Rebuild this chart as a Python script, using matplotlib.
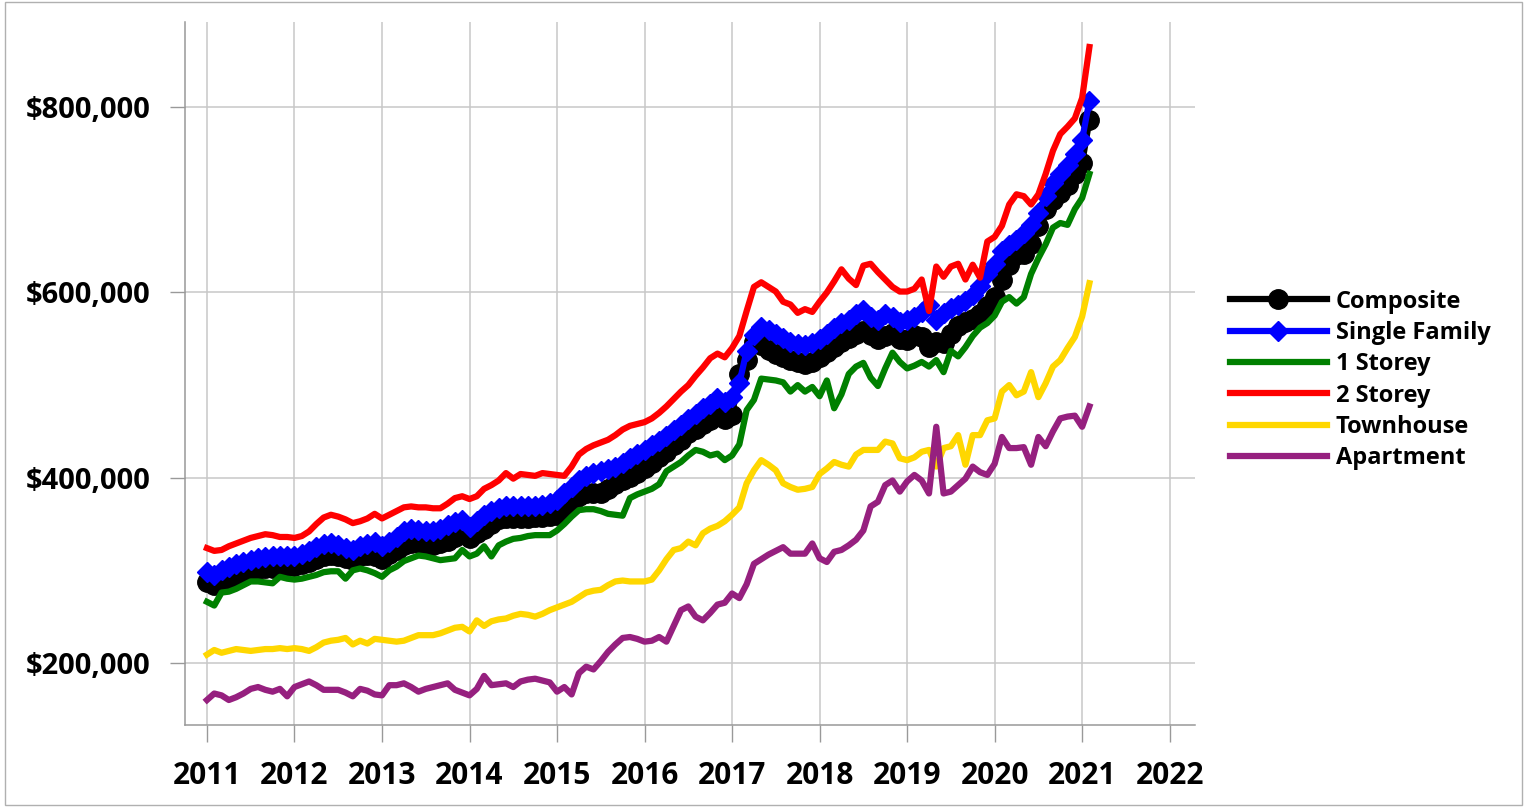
import numpy as np
import pandas as pd
from matplotlib import pyplot as plt
from matplotlib import font_manager
from matplotlib.patches import Rectangle
from matplotlib.ticker import FuncFormatter

# ---------------------- monthly benchmark prices (thousands of $) ----------------------
months = pd.date_range('2011-01-01', periods=122, freq='MS')

composite = [287, 284, 289, 292, 294, 297, 299, 301, 302, 303, 304, 305, 305,
             307, 309, 312, 315, 317, 316, 313, 311, 315, 317, 316, 312,
             318, 322, 327, 329, 329, 328, 327, 329, 332, 336, 340, 335,
             340, 345, 350, 355, 356, 356, 356, 357, 358, 358, 359, 360,
             366, 372, 380, 383, 383, 384, 388, 393, 397, 401, 405, 410,
             416, 422, 428, 435, 441, 448, 453, 458, 462, 467, 463, 468,
             512, 527, 546, 543, 538, 534, 530, 527, 525, 523, 525, 530,
             536, 541, 546, 551, 555, 558, 554, 550, 553, 556, 550, 549,
             554, 552, 541, 546, 545, 555, 564, 568, 571, 577, 585, 595,
             614, 630, 640, 642, 652, 672, 690, 700, 707, 716, 728, 740, 786]

single_family = [298, 295, 300, 304, 307, 309, 311, 313, 314, 315, 316, 316, 315,
                 318, 321, 325, 328, 330, 327, 324, 322, 326, 328, 331, 326,
                 331, 336, 342, 345, 344, 343, 342, 345, 349, 352, 354, 347,
                 353, 360, 364, 367, 369, 369, 369, 370, 370, 371, 373, 376,
                 383, 390, 398, 402, 405, 407, 409, 412, 416, 421, 426, 430,
                 435, 440, 445, 451, 457, 463, 469, 475, 480, 486, 482, 487,
                 502, 537, 554, 563, 559, 555, 551, 547, 544, 543, 545, 550,
                 555, 562, 567, 570, 577, 581, 573, 570, 577, 573, 568, 570,
                 574, 579, 586, 570, 578, 583, 586, 591, 597, 607, 620, 631,
                 645, 651, 657, 664, 673, 686, 704, 718, 728, 738, 750, 765, 807]

one_storey = [266, 262, 276, 277, 280, 284, 288, 288, 287, 286, 293, 291, 290,
              291, 293, 295, 298, 299, 299, 291, 300, 302, 300, 297, 293,
              300, 304, 310, 313, 316, 315, 313, 311, 312, 313, 322, 315,
              318, 326, 315, 327, 331, 334, 335, 337, 338, 338, 338, 343,
              350, 358, 365, 366, 366, 364, 361, 360, 359, 378, 382, 385,
              388, 393, 407, 412, 417, 424, 430, 428, 424, 426, 419, 424,
              436, 473, 484, 507, 506, 505, 503, 493, 500, 493, 498, 488,
              505, 475, 490, 512, 520, 524, 508, 499, 518, 535, 525, 518,
              521, 525, 520, 527, 514, 537, 531, 541, 553, 562, 567, 575,
              590, 595, 588, 595, 620, 637, 652, 670, 675, 673, 690, 702, 728]

two_storey = [324, 321, 322, 326, 329, 332, 335, 337, 339, 338, 336, 336, 335,
              337, 342, 350, 357, 360, 358, 355, 351, 353, 356, 361, 356,
              360, 364, 368, 369, 368, 368, 367, 367, 372, 378, 380, 377,
              380, 388, 392, 397, 405, 399, 404, 403, 402, 405, 404, 403,
              402, 412, 425, 431, 435, 438, 441, 446, 452, 456, 458, 460,
              464, 470, 477, 485, 493, 500, 510, 519, 529, 534, 530, 540,
              553, 580, 606, 611, 606, 601, 590, 587, 578, 582, 579, 590,
              600, 612, 625, 615, 608, 629, 631, 622, 614, 606, 601, 601,
              604, 614, 580, 628, 617, 628, 631, 614, 630, 616, 655, 660,
              672, 695, 706, 704, 695, 706, 728, 753, 771, 779, 788, 810, 865]

townhouse = [209, 214, 211, 213, 215, 214, 213, 214, 215, 215, 216, 215, 216,
             215, 213, 217, 222, 224, 225, 227, 220, 224, 221, 226, 225,
             224, 223, 224, 227, 230, 230, 230, 232, 235, 238, 239, 234,
             246, 240, 245, 247, 248, 251, 253, 252, 250, 253, 257, 260,
             263, 266, 271, 276, 278, 279, 284, 288, 289, 288, 288, 288,
             290, 300, 312, 322, 324, 331, 327, 340, 345, 348, 353, 360,
             368, 394, 408, 419, 414, 408, 394, 390, 387, 388, 390, 404,
             410, 417, 414, 412, 425, 430, 430, 430, 439, 437, 421, 419,
             422, 428, 430, 412, 432, 434, 446, 414, 446, 446, 462, 464,
             493, 500, 489, 493, 514, 487, 502, 520, 527, 540, 552, 574, 610]

apartment = [160, 167, 165, 160, 163, 167, 172, 174, 171, 169, 172, 164, 174,
             177, 180, 176, 171, 171, 171, 168, 164, 172, 170, 166, 165,
             176, 176, 178, 174, 169, 172, 174, 176, 178, 171, 168, 165,
             172, 186, 176, 177, 178, 174, 180, 182, 183, 181, 179, 169,
             174, 166, 189, 196, 193, 202, 212, 220, 227, 228, 226, 223,
             224, 228, 223, 240, 257, 261, 250, 246, 254, 263, 265, 275,
             270, 285, 307, 312, 317, 321, 325, 318, 318, 318, 329, 313,
             309, 320, 322, 327, 333, 343, 369, 374, 392, 397, 385, 396,
             403, 397, 383, 455, 383, 385, 392, 399, 412, 406, 403, 415,
             444, 432, 432, 433, 414, 444, 434, 450, 464, 466, 467, 455, 477]

year_ticks = list(range(2011, 2023))
price_ticks = [200000, 400000, 600000, 800000]

# ---------------------- fonts ----------------------
installed = {f.name for f in font_manager.fontManager.ttflist}
label_font = 'Open Sans' if 'Open Sans' in installed else 'DejaVu Sans'
year_font = 'Liberation Sans Narrow' if 'Liberation Sans Narrow' in installed else label_font
year_size = 25 if year_font == 'Liberation Sans Narrow' else 21.5

# ---------------------- x axis in decimal years ----------------------
x = months.year + (months.month - 1) / 12.0

fig = plt.figure(figsize=(15.27, 8.07), dpi=100)
ax = fig.add_axes([0.1212, 0.1016, 0.6614, 0.8711])

lw = 4.5
ax.plot(x, np.array(composite) * 1000, color='black', lw=lw, marker='o', ms=14,
        label='Composite', zorder=3)
ax.plot(x, np.array(single_family) * 1000, color='#0000ff', lw=lw, marker='D', ms=10,
        label='Single Family', zorder=4)
ax.plot(x, np.array(one_storey) * 1000, color='#008000', lw=lw, label='1 Storey', zorder=5)
ax.plot(x, np.array(two_storey) * 1000, color='#ff0000', lw=lw, label='2 Storey', zorder=5)
ax.plot(x, np.array(townhouse) * 1000, color='#ffd700', lw=lw, label='Townhouse', zorder=5)
ax.plot(x, np.array(apartment) * 1000, color='#96207f', lw=lw, label='Apartment', zorder=6)

ax.set_xlim(2010.75, 2022.29)
ax.set_ylim(133000, 892000)
ax.set_xticks(year_ticks)
ax.set_yticks(price_ticks)
ax.yaxis.set_major_formatter(FuncFormatter(lambda v, p: '${:,.0f}'.format(v)))

ax.grid(True, color='#c8c8c8', lw=1.1)
ax.set_axisbelow(True)
for side in ['top', 'right']:
    ax.spines[side].set_visible(False)
for side in ['left', 'bottom']:
    ax.spines[side].set_color('#999999')
    ax.spines[side].set_linewidth(1.1)

ax.tick_params(axis='x', length=12, width=1, color='#999999', pad=14)
ax.tick_params(axis='y', length=11, width=1, color='#999999', pad=14)
for lbl in ax.get_xticklabels():
    lbl.set_fontfamily(year_font)
    lbl.set_fontweight('bold')
    lbl.set_fontsize(year_size)
for lbl in ax.get_yticklabels():
    lbl.set_fontfamily(label_font)
    lbl.set_fontweight('bold')
    lbl.set_fontsize(21)

leg = ax.legend(loc='center left', bbox_to_anchor=(1.025, 0.491), frameon=False,
                prop={'family': label_font, 'weight': 'bold', 'size': 17},
                handlelength=4.1, handletextpad=0.4, labelspacing=0.31, borderaxespad=0)

# thin frame around the whole figure
fig.patches.append(Rectangle((0.003, 0.002), 0.994, 0.996, transform=fig.transFigure,
                             fill=False, edgecolor='#b0b0b0', lw=1))

fig.savefig('out.png', dpi=100)
